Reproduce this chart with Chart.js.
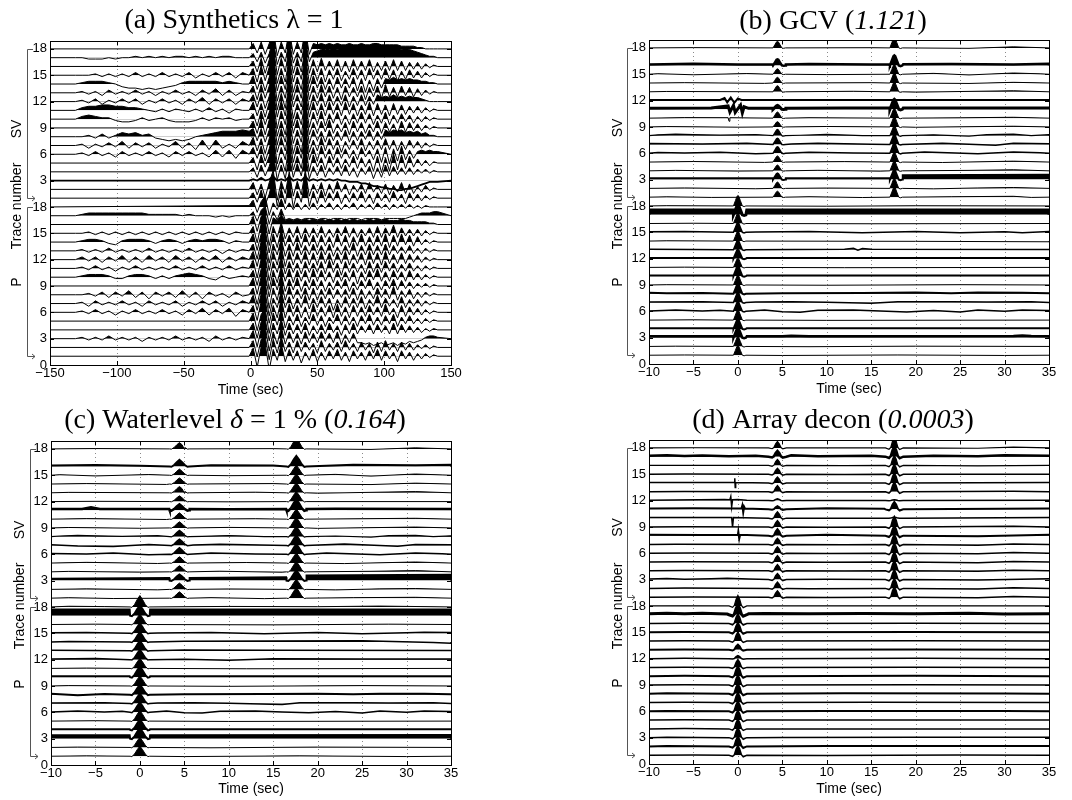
<!DOCTYPE html>
<html><head><meta charset="utf-8">
<script src="https://cdn.jsdelivr.net/npm/chart.js@4.4.1/dist/chart.umd.min.js"></script>
<style>
html,body{margin:0;padding:0;background:#fff;}
#wrap{position:relative;width:1072px;height:800px;overflow:hidden;background:#fff;}
canvas{position:absolute;}
</style></head><body>
<div id="wrap">
<canvas id="ca" width="536" height="400" style="left:0;top:0;width:536px;height:400px"></canvas>
<canvas id="cb" width="536" height="400" style="left:536px;top:0;width:536px;height:400px"></canvas>
<canvas id="cc" width="536" height="400" style="left:0;top:400px;width:536px;height:400px"></canvas>
<canvas id="cd" width="536" height="400" style="left:536px;top:400px;width:536px;height:400px"></canvas>
</div>
<script>
// ---------------- DATA ----------------
// panel (a): sample times (s) and amplitudes in tenths of trace spacing
const aTimesPre = [-131,-126,-121,-116,-111,-106,-101,-96,-91,-86,-81,-76,-71,-66,-61,-56,-51,-46,-41,-36,-31,-26,-21,-16,-11,-6];
const aTimesMain = [-1,2,5,8,11,14,17,20,23,26,29,32,35,38,41,44,47,50,53,56,59,62,65,68,71,74,77,80,83,86,89,92,95,98,101,104,107,110,113,116,119,122,125,128,131,134,137,140];
const aSVpre = [
 [],[],[],[],[],
 [0,1,-1,2,-1,1,-2,2,-1,1,-1,2,-1, 1,-2,2,-1,2,-1,1,-2,3,-2,3,-3,3],
 [0,1,-2,1,-1,2,-1,3,-2,2,-1,2,-2, 1,-1,3,-2,2,-3,4,-3,4,-2,1,-2,3],
 [0,0,1,-1,2,-1,1,3,2,3,1,2,-1, -2,-3,-2,-3,-2,0,1,2,3,4,4,4,5],
 [],
 [0,2,3,2,1,1,-1,-2,-2,-1,1,-1,0, 1,-1,-2,-2,-2,-1,1,-1,1,0,1,-1,0],
 [0,2,3,3,4,4,3,3,2,2,1,0,-1, 1,-1,1,0,-1,1,-1,2,-1,1,-2,1,0],
 [0,1,-1,2,-2,1,-1,2,-1,2,-2,1,-1, 2,-1,1,-2,2,-1,3,-2,2,-1,2,-2,2],
 [0,1,-1,1,-2,2,-1,1,-1,2,-1,1,-2, 1,-1,2,-1,1,-2,2,-1,3,-2,2,-2,1],
 [0,1,2,2,2,1,0,-2,-3,-3,-4,-3,-4, -3,-2,-1,1,2,2,2,2,2,1,2,1,0],
 [0,0,0,1,-1,1,-1,1,-1,2,-1,1,-1, 2,-1,1,-1,2,-2,1,-1,2,-1,2,-2,2],
 [],
 [0,0,-1,-1,-1,0,-1,0,0,1,0,1,0, 1,0,1,1,0,1,0,1,0,1,1,0,0],
 []
];
const aSVmain = [
 [0,4,-3,6,-5,3,15,-6, 7,-4,14,-7,5,-3,15,-6, 5,-4,6,-3,4,-2,5,-4, 3,-3,4,-2,5,-3,3,-4, 4,-2,3,-3,5,-2,3,-4, 4,-2,3,-2,2,-1,1,0],
 [0,5,-4,4,-6,5,14,-8, 6,-3,13,-5,6,-4,14,-5, 4,-3,5,-5,4,-3,6,-2, 4,-4,3,-2,4,-3,5,-2, 3,-3,4,-4,3,-2,5,-3, 4,-3,2,-2,3,-1,1,0],
 [0,1,0,2,0,1,3,0, 1,0,3,0,1,0,3,0, 1,0,1,0,1,0,1,0, 0,-1,-1,-1,-2,-2,-3,-4, -4,-5,-5,-6,-6,-7,-7,-6, -6,-5,-4,-3,-2,-1,-1,-1],
 [0,3,-4,5,-3,4,14,-6, 5,-5,12,-4,6,-3,13,-5, 4,-3,5,-4,3,-2,4,-3, 5,-3,3,-4,3,-2,4,-5, 3,-4,5,-3,4,-2,3,-2, 3,-2,2,-1,2,-1,1,0],
 [0,4,-5,6,-3,5,15,-5, 4,-6,14,-5,5,-4,14,-6, 6,-3,4,-5,5,-3,4,-4, 3,-3,5,-4,4,-3,3,-6, 5,-7,4,-6,7,-5,6,-4, 5,-3,3,-2,2,-2,1,0],
 [0,5,-3,6,-5,4,15,-7, 5,-4,14,-6,6,-3,15,-4, 5,-5,6,-3,4,-4,5,-3, 4,-3,3,-4,5,-2,3,-4, 4,-6,5,-7,4,-5,6,-4, 3,-3,2,3,2,3,2,2],
 [0,6,-4,5,-6,5,14,-5, 6,-4,13,-6,5,-5,14,-5, 4,-4,6,-4,5,-3,4,-5, 3,-3,4,-3,5,-4,3,-3, 4,-3,5,-3,4,-4,3,-3, 4,-2,3,-2,2,-1,1,0],
 [4,6,-3,6,-4,5,15,-6, 6,-4,14,-5,5,-4,14,-5, 5,-3,4,-4,5,-3,4,-3, 5,-4,4,-3,4,-2,5,-3, 4,-2,5,3,5,4,5,3, 4,3,4,2,3,1,1,0],
 [0,5,-4,7,-5,6,15,-6, 5,-5,14,-4,6,-5,15,-5, 4,-4,5,-3,6,-4,3,-3, 4,-5,5,-3,4,-4,3,-3, 5,-4,4,-3,3,-4,5,-3, 4,-2,3,-2,2,-1,1,0],
 [0,4,-5,6,-4,5,14,-7, 6,-4,13,-5,5,-4,14,-6, 5,-4,6,-5,4,-3,5,-4, 3,-4,4,-3,5,-3,4,-4, 3,-3,5,-4,3,-3,4,-2, 3,-3,2,-2,2,-1,1,0],
 [0,6,-4,5,-5,6,15,-5, 7,-4,14,-6,5,-3,14,-5, 6,-4,5,-4,6,-3,5,-4, 6,-3,5,-4,4,-3,6,-4, 5,-3,4,-4,5,-3,4,-3, 3,-2,3,-2,2,-1,1,0],
 [0,5,-4,6,-5,4,15,-6, 6,-5,13,-4,5,-4,14,-6, 5,-3,6,-4,5,-3,4,-3, 5,-4,4,-3,5,-3,4,-2, 5,3,4,3,5,3,4,3, 4,3,3,2,1,0,0,0],
 [0,5,-5,6,-4,5,14,-6, 5,-4,14,-5,6,-4,15,-5, 5,-4,6,-3,5,-4,4,-5, 5,-3,4,-3,5,-5,4,-3, 5,-4,6,-3,4,-3,5,-2, 4,-3,3,-2,2,-1,1,0],
 [0,6,-4,5,-5,5,15,-5, 6,-4,14,-6,5,-4,14,-5, 6,-3,5,-4,4,-4,5,-3, 4,-3,5,-5,4,-6,3,-5, 4,-3,4,3,5,3,4,3, 4,3,3,2,2,1,1,0],
 [0,5,-5,7,-4,6,15,-6, 5,-5,13,-5,6,-3,15,-6, 5,-4,5,-5,4,-3,5,-4, 3,-3,5,-3,4,-4,5,-3, 4,-3,5,-3,4,-4,3,-3, 4,-2,3,-2,2,-1,1,0],
 [0,4,-4,6,-5,5,15,-6, 6,-4,14,-5,6,-4,14,-5, 5,-4,6,-3,4,-3,5,-4, 4,-4,5,-3,4,-3,5,-4, 3,-3,4,-3,5,-3,4,-3, 3,-2,3,-2,2,-1,1,0],
 [0,3,-3,4,-4,3,14,-5, 4,-3,13,-4,4,-3,14,-3, 4,5,6,6,6,7,6,7, 7,8,7,7,8,7,7,8, 7,7,8,7,7,7,6,7, 6,5,4,3,2,1,1,0],
 [0,4,-3,5,-4,4,15,-5, 5,-3,14,-4,5,-3,15,-4, 4,3,4,3,4,3,4,3, 3,4,3,3,4,3,3,4, 4,3,3,3,3,3,2,2, 2,2,1,1,0,0,0,0]
];
const aPpre = [
 [],[],
 [0,1,-1,1,-1,2,-1,1,-1,1,-2,1,-1, 1,-1,2,-1,1,-1,1,-2,2,-1,1,-1,1],
 [],[],
 [0,1,-1,2,-1,1,-2,1,-1,2,-1,1,-1, 2,-1,1,-2,2,-1,3,-2,2,-1,3,-3,2],
 [0,1,-2,2,-1,1,-1,2,-1,1,-2,2,-1, 1,-1,2,-2,1,-1,2,-1,2,-2,1,-1,2],
 [0,0,1,-1,2,-2,2,-1,3,-2,2,-3,2, -1,2,-2,3,-2,2,-3,2,-1,1,-2,2,-1],
 [],
 [0,1,2,2,2,1,-1,-1,1,2,2,1,-1, 1,-1,1,2,3,2,1,-1,-2,1,-1,0,1],
 [0,1,-1,2,-1,1,-2,1,-1,2,-1,1,-1, 1,-1,2,-1,1,-1,2,-1,1,-1,2,-1,1],
 [0,2,-1,2,-2,2,-1,3,-2,2,-2,3,-1, 2,-2,3,-1,2,-2,2,-1,3,-2,2,-1,2],
 [0,1,-1,1,-1,2,-1,1,-1,1,-1,2,-1, 1,-1,1,-1,2,-1,1,-1,1,-2,1,-1,1],
 [0,1,2,2,1,-1,-2,1,2,2,2,1,-1, 1,2,1,-1,1,2,1,2,2,1,-1,1,0],
 [0,0,1,-1,1,-1,1,-1,1,-1,1,-1,1, -1,1,-1,1,-1,1,-1,1,-1,1,-1,1,0],
 [],
 [0,1,2,2,2,2,2,2,2,2,2,1,1, 1,1,1,0,1,0,0,0,-1,0,-1,0,0],
 []
];
const aPmain = [
 [0,6,-8,7,9,-10,5,-3, 9,-4,5,-3,4,-5,3,-3, 5,-4,3,-3,4,-2,5,-3, 3,-4,4,-2,3,-3,4,-2, 5,-3,4,-2,3,-4,4,-2, 3,-3,2,-2,2,-1,1,0],
 [0,5,-7,6,8,-9,6,-4, 8,-3,4,-4,5,-3,4,-2, 3,-4,5,-3,3,-2,4,-3, 5,-2,3,-3,4,-2,3,-4, 4,-3,5,-2,3,-3,4,-2, 3,-2,2,-1,2,-1,1,0],
 [0,6,-6,7,9,-9,5,-4, 9,-4,5,-3,4,-4,5,-3, 4,-3,5,-2,4,-3,5,-4, 3,-3,4,-3,-3,-4,-3,-5, -4,-3,-5,-4,-3,-5,-3,-4, -2,-3,-2,-1,1,2,2,1],
 [0,5,-6,6,8,-8,5,-3, 8,-4,5,-3,4,-3,5,-4, 3,-3,4,-3,5,-2,3,-4, 4,-3,5,-3,3,-2,4,-3, 4,-2,3,-3,5,-3,4,-2, 3,-2,2,-2,1,-1,1,0],
 [0,6,-7,5,9,-9,6,-3, 9,-5,4,-3,5,-4,3,-3, 5,-3,4,-4,3,-2,5,-3, 4,-3,3,-4,4,-2,5,-3, 3,-3,4,-2,5,-4,3,-2, 4,-2,2,-2,2,-1,1,0],
 [0,5,-6,8,9,-8,5,-4, 10,-4,6,-3,5,-4,4,-5, 6,-3,4,-3,5,-4,6,-3, 4,-4,5,-3,4,-3,5,-2, 4,-3,6,-2,3,-4,5,-3, 4,-2,3,-2,2,-1,1,0],
 [0,6,-5,7,8,-9,4,-3, 9,-3,5,-4,4,-3,6,-4, 4,-3,5,-3,4,-5,3,-3, 5,-3,4,-3,5,-4,3,-2, 6,-3,4,-2,3,-3,5,-3, 3,-2,3,-2,2,-1,1,0],
 [0,5,-7,6,9,-10,5,-4, 10,-4,6,-3,4,-3,5,-4, 5,-4,4,-3,5,-3,4,-2, 4,-3,5,-4,4,-3,3,-3, 5,-2,4,-3,6,-4,3,-2, 4,-3,2,-2,2,-1,1,0],
 [0,6,-6,7,8,-8,6,-3, 9,-4,5,-3,6,-4,4,-3, 5,-3,4,-4,3,-3,4,-2, 5,-4,3,-3,4,-2,5,-3, 3,-3,4,-2,5,-3,4,-2, 3,-2,2,-1,2,-1,1,0],
 [0,5,-6,6,9,-9,5,-4, 8,-3,6,-4,5,-3,5,-4, 6,-3,5,-3,4,-4,5,-3, 4,-3,5,-5,4,-3,5,-2, 6,-3,4,-3,5,-2,4,-3, 5,-2,3,-2,2,-1,1,0],
 [0,6,-7,7,9,-9,5,-3, 9,-4,5,-3,4,-4,5,-3, 4,-3,5,-4,6,-3,4,-5, 5,-3,4,-3,3,-4,5,-3, 4,-3,5,-2,4,-3,3,-2, 4,-2,2,-2,2,-1,1,0],
 [0,6,-5,8,9,-8,6,-4, 10,-5,6,-4,5,-3,6,-4, 5,-4,6,-3,5,-4,5,-3, 6,-4,4,-3,5,-4,6,-3, 5,-4,6,-3,4,-3,5,-3, 4,-2,3,-2,2,-1,1,0],
 [0,5,-6,7,8,-9,5,-3, 9,-4,5,-4,6,-3,4,-3, 5,-3,4,-3,5,-4,3,-3, 4,-3,6,-4,4,-3,5,-3, 4,-3,5,-3,4,-2,3,-2, 4,-2,2,-2,2,-1,1,0],
 [0,6,-6,6,9,-8,6,-4, 9,-3,5,-3,5,-4,6,-3, 5,-4,5,-3,4,-4,6,-3, 5,-4,4,-3,6,-3,4,-3, 5,-3,6,-4,5,-3,6,-2, 5,-3,4,-2,2,-1,1,0],
 [0,5,-7,7,9,-9,5,-3, 8,-4,4,-3,5,-4,4,-3, 4,-3,5,-3,3,-3,4,-2, 5,-3,4,-3,3,-2,4,-3, 5,-3,4,-2,6,-3,4,-2, 3,-2,3,-2,2,-1,1,0],
 [0,6,-5,6,8,-7,5,3, 7,3,4,3,4,3,4,3, 4,3,4,3,4,3,4,3, 4,3,4,3,3,3,4,3, 4,3,4,3,3,3,4,3, 3,2,2,2,2,1,1,0],
 [0,3,-4,4,7,-6,3,-3, 5,-3,-2,-3,-2,-3,-2,-2, -2,-3,-2,-2,-3,-2,-2,-2, -3,-2,-2,-2,-3,-2,-2,-2, -2,-3,-2,-2,-2,-2,-2,-2, -1,0,1,2,2,2,3,3],
 [1,5,-4,4,8,-6,3,-2, 6,-2,3,-2,3,-2,2,-2, 3,-2,2,-1,3,-2,2,-2, 2,-1,3,-2,2,-1,2,-2, 3,-1,2,-2,2,-1,2,-1, 2,-1,1,-1,1,0,0,0]
];

// panels (b)-(d): pulse arrival times (s), pulse shapes [dt, relative amp], pulse heights and sparse background points [t, amp]
const svTimes = [4.45, 17.6];
const pTime = 0;
const kernB = [[-0.5,0],[-0.28,0.5],[-0.1,0.92],[0,1],[0.1,0.92],[0.28,0.5],[0.5,0],[0.7,-0.06],[0.9,0]];
const kernC = [[-1.1,0],[-0.9,-0.04],[-0.6,0.22],[-0.3,0.65],[0,1],[0.3,0.65],[0.6,0.22],[0.9,-0.04],[1.1,0]];
const kernD = [[-1.0,0],[-0.6,-0.13],[-0.4,0.05],[-0.2,0.65],[0,1],[0.2,0.65],[0.4,0.05],[0.6,-0.16],[1.0,0]];

const bSVp1 = [0.68,0.72,0.7,0.66,0.7,0.74,0.7,0.72,0.6,0.7,0.45,0,0.7,0.65,0.62,0.7,null,0.75];
const bSVp2 = [1.15,1.12,1.1,1.12,1.1,1.15,1.12,1.1,1.15,1.1,1.15,0,1.1,1.12,1.1,1.15,null,1.2];
const bPp   = [1.1,1.1,1.12,1.1,1.15,1.1,1.12,1.1,1.1,1.15,1.05,1.0,1.1,1.12,1.1,1.15,1.1,1.2];
const bSVbg = [
 [[-8,0.04],[-3,-0.03],[8,0.05],[14,-0.04],[24,0.05],[31,0.1],[33,-0.03]],
 [[-6,0.05],[2,-0.04],[10,0.04],[22,-0.05],[27,0.05],[31,0.1]],
 [[-10,0.15],[3.95,0.15],[5.4,0.15],[17.1,0.15],[18.55,0.5],[35,0.55]],
 [[-7,0.05],[0,-0.03],[9,0.06],[16,-0.04],[26,0.05],[31,0.12]],
 [[-5,0.06],[3,-0.04],[12,0.05],[23,-0.05],[31,0.1]],
 [[-9,0.1],[-6,0.02],[-2,0.12],[2,-0.05],[8,0.12],[13,0.03],[21,0.14],[27,-0.06],[31,0.15],[34,0.05]],
 [[-10,0.12],[-4,0.05],[1,0.14],[6,0.06],[9,0.15],[15,0.04],[23,0.15],[29,-0.1],[31,0.14],[35,0.08]],
 [[-9,0.1],[-7,0.18],[-5,0.12],[-2,0.06],[2,0.14],[7,0.05],[10,0.15],[14,0.02],[22,0.1],[26,-0.05],[28,0.12],[31,0.18],[33,0.0],[35,0.12]],
 [[-8,0.04],[0,-0.03],[10,0.05],[20,-0.04],[31,0.08]],
 [[-6,0.06],[-1.1,0.05],[-1.0,-0.35],[-0.9,0.05],[8,0.05],[25,0.04],[31,0.1]],
 [[-10,0.12],[-3,0.15],[-1.1,0.4],[-0.9,-0.3],[-0.5,0.45],[-0.3,-0.35],[0.3,0.5],[0.5,-0.4],[0.7,0.3],[1.2,0.12],[3.95,0.12],[5.4,0.12],[12,0.15],[17.1,0.15],[18.6,0.15],[35,0.15]],
 [[-10,0.08],[-2,0.08],[-1.5,0.3],[-1.2,-0.2],[-0.8,0.35],[-0.4,-0.25],[0,0.25],[0.4,0.08],[35,0.08]],
 [[-8,0.04],[5,-0.03],[13,0.06],[20,-0.04],[31,0.12]],
 [[-6,0.04],[3,-0.04],[15,0.04],[26,-0.05],[31,0.08]],
 [[-9,0.06],[-5,-0.06],[1,0.08],[10,-0.04],[22,0.1],[26,-0.08],[31,0.14],[34,0.05]],
 [[-10,0.12],[-5,0.2],[0,0.1],[3.9,0.1],[5.4,0.12],[8,0.16],[15,0.1],[17,0.1],[18.6,0.15],[24,0.18],[31,0.12],[35,0.2]],
 null,
 [[-5,0.03],[5,-0.03],[15,0.02],[26,-0.05],[31,0.12]]
];
const bPbg = [
 [[-6,0.03],[5,-0.03],[18,0.03],[30,-0.03]],
 [[-7,0.03],[8,-0.03],[20,0.03]],
 [[-10,0.15],[-0.5,0.15],[1,0.15],[5,0.15],[6,0.22],[8,0.15],[31,0.18],[32,0.25],[33,0.18],[35,0.15]],
 [[-10,0.08],[-0.5,0.08],[1,0.08],[35,0.08]],
 [[-5,0.03],[10,-0.03]],
 [[-10,0.05],[-7,0.15],[-4,0.05],[-2,0.12],[3,0.15],[5,-0.05],[7,-0.1],[9,0.12],[13,0.15],[16,0.05],[19,-0.08],[22,0.1],[25,-0.08],[27,0.14],[30,0.02],[32,0.14],[35,0.08]],
 [[-10,0.05],[-4,0.1],[2,0.05],[6,0.1],[10,0.04],[15,-0.08],[18,0.08],[24,0.1],[28,0.05],[33,0.08]],
 [[-10,0.12],[-8,0.06],[-4,0.1],[5,0.06],[14,0.1],[20,0.15],[24,0.05],[27,0.14],[32,0.12],[35,0.05]],
 [[-8,0.03],[10,-0.03],[25,0.03]],
 [[-10,0.08],[-0.5,0.08],[1,0.08],[35,0.08]],
 [[-6,0.03],[12,-0.03]],
 [[-10,0.08],[-0.5,0.08],[1,0.08],[35,0.08]],
 [[-10,0.06],[12,0.06],[13,0.18],[13.5,-0.05],[14,0.15],[15,0.06],[35,0.05]],
 [[-8,0.03],[20,-0.03],[35,-0.08]],
 [[-10,0.06],[-6,0.1],[2,0.04],[8,0.08],[14,-0.05],[20,0.08],[25,-0.06],[30,0.06],[32,-0.06],[35,0.1]],
 [[-5,0.03],[15,-0.03]],
 [[-10,0.55],[-0.55,0.55],[1,0.55],[35,0.55]],
 [[-8,0.03],[10,-0.03],[20,0.02]]
];

const cSVp1 = [0.72,0.72,0.7,0.7,0.72,0.75,0.72,0.74,0.7,0.72,0.68,0.66,0.72,0.7,0.7,0.75,null,0.72];
const cSVp2 = [1.2,1.15,1.15,1.18,1.15,1.2,1.18,1.15,1.2,1.15,1.2,1.15,1.15,1.18,1.15,1.2,null,1.25];
const cPp   = [1.15,1.15,1.18,1.15,1.2,1.15,1.18,1.15,1.15,1.2,1.15,1.15,1.18,1.15,1.15,1.2,1.15,1.3];
const cSVbg = [
 [[-8,0.05],[-3,-0.04],[8,0.06],[14,-0.05],[24,0.06],[31,0.1]],
 [[-6,0.06],[2,-0.05],[10,0.05],[22,-0.06],[27,0.06],[31,0.1]],
 [[-10,0.22],[3.3,0.3],[5.6,0.3],[16.45,0.38],[18.75,0.58],[35,0.68]],
 [[-8,0.05],[0,-0.04],[9,0.07],[16,-0.05],[26,0.06],[31,0.14]],
 [[-6,0.08],[2,-0.05],[12,0.06],[23,-0.06],[31,0.12]],
 [[-10,0.1],[-6,0.02],[-3,0.14],[1,-0.06],[8,0.14],[13,0.03],[21,0.14],[27,-0.06],[31,0.15],[34,0.05]],
 [[-10,0.08],[-7,-0.06],[-3,-0.12],[1,0.12],[6,0.06],[9,0.14],[15,0.04],[23,0.16],[29,-0.1],[31,0.12],[35,0.08]],
 [[-9,0.08],[-7,0.16],[-5,0.1],[-2,0.04],[2,0.12],[7,0.04],[10,0.14],[14,0.02],[22,0.08],[26,-0.05],[28,0.12],[31,0.16],[33,0.0],[35,0.1]],
 [[-8,0.05],[0,-0.04],[10,0.06],[20,-0.05],[31,0.1]],
 [[-6,0.06],[3,-0.04],[13,0.05],[25,0.05],[31,0.1]],
 [[-10,0.15],[-6.5,0.15],[-5.5,0.35],[-4.5,0.15],[3.3,0.15],[5.6,0.15],[10,0.12],[16.45,0.15],[18.75,0.15],[22,0.18],[35,0.15]],
 [[-5,0.03],[10,-0.03]],
 [[-8,0.05],[5,-0.04],[13,0.07],[20,-0.05],[31,0.14]],
 [[-6,0.05],[3,-0.05],[15,0.05],[26,-0.06],[31,0.1]],
 [[-9,0.06],[-5,-0.08],[1,0.08],[10,-0.05],[22,0.1],[26,-0.1],[31,0.14],[34,0.04]],
 [[-10,0.1],[-5,0.18],[0,0.08],[8,0.14],[15,0.1],[24,0.2],[31,0.14],[35,0.2]],
 null,
 [[-5,0.04],[5,-0.04],[15,0.03],[26,-0.06],[31,0.12]]
];
const cPbg = [
 [[-6,0.04],[5,-0.04],[18,0.04],[30,-0.04]],
 [[-7,0.04],[8,-0.04],[20,0.04]],
 [[-10,0.38],[-1.15,0.38],[1.15,0.4],[35,0.42]],
 [[-10,0.08],[-1.15,0.08],[1.15,0.08],[35,0.08]],
 [[-5,0.04],[10,-0.04]],
 [[-10,0.05],[-7,0.15],[-4,0.05],[-2,0.12],[3,0.15],[5,-0.05],[7,-0.08],[9,0.12],[13,0.15],[16,0.05],[19,-0.06],[22,0.1],[25,-0.08],[27,0.14],[30,0.02],[32,0.14],[35,0.08]],
 [[-10,0.05],[-4,0.1],[2,0.05],[6,0.1],[10,0.04],[16,-0.12],[18,0.08],[24,0.1],[28,0.05],[33,0.08]],
 [[-10,0.12],[-7,-0.06],[-4,0.1],[5,0.06],[14,0.1],[20,0.12],[24,0.05],[27,0.12],[32,0.12],[35,0.05]],
 [[-8,0.04],[10,-0.04],[25,0.04]],
 [[-10,0.1],[-1.15,0.1],[1.15,0.1],[35,0.1]],
 [[-6,0.04],[12,-0.04]],
 [[-10,0.06],[-5,0.12],[5,0.05],[10,-0.06],[15,0.1],[25,0.06],[35,0.08]],
 [[-10,0.06],[5,0.1],[15,0.06],[35,0.05]],
 [[-8,0.06],[5,0.1],[15,0.12],[25,0.14],[33,-0.04],[35,-0.12]],
 [[-10,0.06],[-6,0.1],[2,0.04],[8,0.08],[14,-0.05],[20,0.08],[25,-0.06],[30,0.06],[32,0.12],[35,0.1]],
 [[-5,0.04],[15,-0.04],[28,0.04]],
 [[-10,0.7],[-1.15,0.7],[1.15,0.7],[35,0.7]],
 [[-8,0.08],[-4,0.04],[10,0.06],[20,0.03],[27,0.1]]
];

const dSVp1 = [0.72,0.7,0.68,0.7,0.72,0.72,0.7,0.74,0.7,0.72,0.35,0.2,0.7,0.68,0.66,0.7,0.65,0.72];
const dSVp2 = [1.15,1.12,1.12,1.15,1.12,1.15,1.12,1.12,1.2,0.1,0.85,0.1,1.12,1.15,1.12,1.15,1.15,1.2];
const dPp   = [1.1,1.1,1.12,1.1,1.12,1.1,1.12,1.1,1.15,1.1,0.9,0.35,0.6,1.0,1.05,1.1,1.1,1.2];
const dSVbg = [
 [[-5,0.03],[10,-0.03],[27,-0.06],[31,0.08]],
 [[-6,0.04],[8,-0.04],[27,-0.06],[31,0.06]],
 [[-10,0.06],[-8,0.12],[-6,0.05],[-3,0.1],[-1.2,0.15],[1.2,0.08],[10,0.05],[27,-0.05],[35,0.1]],
 [[-6,0.03],[12,-0.03],[27,-0.06],[31,0.06]],
 [[-6,0.03],[10,-0.03],[27,-0.08],[31,0.06]],
 [[-5,0.04],[10,-0.04],[27,-0.06],[31,0.08]],
 [[-7,0.03],[12,-0.04],[27,-0.1],[31,0.05]],
 [[-10,0.1],[-4,0.08],[0,0.08],[0.05,0.45],[0.15,-0.35],[0.25,0.1],[10,0.1],[27,-0.05],[35,0.1]],
 [[-6,0.03],[10,-0.03],[31,0.08]],
 [[-10,0.06],[-0.7,0.06],[-0.6,-1.0],[-0.5,0.06],[35,0.06]],
 [[-10,0.1],[-5,0.12],[0.4,0.1],[0.5,0.45],[0.6,-0.35],[0.7,0.3],[0.8,0.1],[10,0.12],[16.5,0.06],[35,0.1]],
 [[-10,0.05],[-1.5,0.12],[-0.9,0.1],[-0.8,0.45],[-0.7,-0.7],[-0.6,0.1],[0,0.12],[1,0.05],[35,0.05]],
 [[-6,0.03],[10,-0.03],[31,0.06]],
 [[-10,0.05],[-0.4,0.05],[-0.35,0.55],[-0.3,-0.5],[-0.25,0.05],[35,0.05]],
 [[-6,0.03],[12,-0.03]],
 [[-6,0.02],[12,-0.02],[27,-0.05]],
 [[-10,0.1],[-8,0.16],[-6,0.08],[-4,0.14],[-1,0.06],[2,0.1],[6,0.16],[9,0.06],[15,0.1],[22,0.12],[27,0.04],[30,0.16],[35,0.1]],
 [[-5,0.02],[27,-0.04],[31,0.08]]
];
const dPbg = [
 [[-5,0.02],[10,-0.02],[25,0.02]],
 [[-8,0.06],[10,0.04],[35,0.04]],
 [[-8,0.04],[5,0.03],[20,0.05],[35,0.04]],
 [[-6,0.03],[15,-0.02]],
 [[-6,0.03],[15,0.02]],
 [[-8,0.05],[10,0.04],[30,0.05]],
 [[-6,0.03],[15,0.03]],
 [[-8,0.05],[12,0.05],[30,0.04]],
 [[-6,0.03],[20,0.03]],
 [[-6,0.04],[20,0.04]],
 [[-6,0.03],[20,0.03]],
 [[-6,0.03],[20,0.03]],
 [[-6,0.03],[20,0.03]],
 [[-6,0.03],[20,0.03]],
 [[-6,0.03],[20,0.03]],
 [[-6,0.03],[20,0.03]],
 [[-10,0.12],[-8,0.18],[-6,0.1],[-4,0.16],[-1.2,0.08],[1.2,0.1],[3,0.14],[8,0.1],[14,0.15],[20,0.1],[26,0.16],[30,0.08],[35,0.12]],
 [[-6,0.02],[20,0.02]]
];

// tick labels
const yTickValues = [0,3,6,9,12,15,18,21,24,27,30,33,36];
const yTickLabels = ['0','3','6','9','12','15','18','3','6','9','12','15','18'];

// ---------------- STYLES ----------------
const gainA = 1.55; // display gain of panel (a) wiggles
const aSVlw = [1,1,1.8,1,1,1,1,1,1,1,1,1,1,1,1,1,1,1];
const aPlw  = [1,1,1,1,1,1,1,1,1,1,1,1,1,1,1,1,1,1];
const bSVlw = [1,1,2,1,1,1.5,1.5,1.2,1,1,3,2,1,1,1,2.5,1,1];
const bPlw  = [1,1,2.5,2,1,1.5,1.5,2,1,2,1,2,1.5,1,1.5,1,3,1];
const cSVlw = [1,1,2,1,1,1.5,1.5,1.2,1,1,2.5,1,1,1,1,2,1,1];
const cPlw  = [1,1,2,2,1,1.5,1.5,2,1,2,1,1.5,1.5,1.5,1.5,1,2,1];
const dSVlw = [1.5,1.5,1.5,1.5,1.5,1.5,1.5,2,1.5,1.5,2,1.5,1.5,1.5,1.5,1.2,2.5,1.2];
const dPlw  = [1.5,2,1.5,1.5,1.5,2,1.5,2,1.5,2,1.5,1.5,2,1.5,2,1.5,3,1.2];

// ---------------- BUILD ----------------
function ds(points, base, lw){
  return {data: points, borderColor:'#000', borderWidth: lw, pointRadius:0, tension:0,
    fill:{target:{value:base}, above:'#000', below:'rgba(0,0,0,0)'}};
}
function traceA(base, pre, main, lw){
  const pts=[{x:-150,y:base}];
  pre.forEach((v,i)=>pts.push({x:aTimesPre[i], y:base+gainA*v/10}));
  main.forEach((v,i)=>pts.push({x:aTimesMain[i], y:base+gainA*v/10}));
  pts.push({x:150,y:base});
  return ds(pts, base, lw);
}
function traceS(base, bg, pulses, kern, lw){
  const raw = bg.map(p=>[p[0],p[1]]);
  pulses.forEach(([t0,h])=>{ if(h) kern.forEach(([dt,k])=>raw.push([t0+dt,h*k])); });
  raw.sort((a,b)=>a[0]-b[0]);
  const pts=[{x:-10,y:base}];
  raw.forEach(p=>pts.push({x:p[0],y:base+p[1]}));
  pts.push({x:35,y:base});
  return ds(pts, base, lw);
}
const dsA=[];
for(let i=0;i<18;i++){ dsA.push(traceA(i+1, aPpre[i], aPmain[i], aPlw[i])); }
for(let i=0;i<18;i++){ dsA.push(traceA(i+19, aSVpre[i], aSVmain[i], aSVlw[i])); }
function panelSets(svBg,svP1,svP2,pBg,pP,kern,svLw,pLw){
  const out=[];
  for(let i=0;i<18;i++){ out.push(traceS(i+1, pBg[i], [[pTime,pP[i]]], kern, pLw[i])); }
  for(let i=0;i<18;i++){ if(svBg[i]) out.push(traceS(i+19, svBg[i], [[svTimes[0],svP1[i]],[svTimes[1],svP2[i]]], kern, svLw[i])); }
  return out;
}
const dsB = panelSets(bSVbg,bSVp1,bSVp2,bPbg,bPp,kernB,bSVlw,bPlw);
const dsC = panelSets(cSVbg,cSVp1,cSVp2,cPbg,cPp,kernC,cSVlw,cPlw);
const dsD = panelSets(dSVbg,dSVp1,dSVp2,dPbg,dPp,kernD,dSVlw,dPlw);

// ---------------- DECORATION PLUGIN ----------------
const deco = {
  id:'deco',
  beforeDatasetsDraw(chart, args, o){
    const ctx=chart.ctx, a=chart.chartArea, xs=chart.scales.x;
    ctx.save(); ctx.strokeStyle='#8a8a8a'; ctx.lineWidth=1; ctx.setLineDash([1,3]);
    o.grid.forEach(v=>{ const x=Math.round(xs.getPixelForValue(v))+0.5; ctx.beginPath(); ctx.moveTo(x,a.top); ctx.lineTo(x,a.bottom); ctx.stroke(); });
    ctx.restore();
  },
  afterDraw(chart, args, o){
    const ctx=chart.ctx, a=chart.chartArea, xs=chart.scales.x, ys=chart.scales.y;
    ctx.save();
    ctx.strokeStyle='#000'; ctx.lineWidth=1; ctx.setLineDash([]);
    ctx.strokeRect(Math.round(a.left)+0.5, Math.round(a.top)+0.5, Math.round(a.right-a.left), Math.round(a.bottom-a.top));
    ctx.beginPath();
    xs.ticks.forEach(t=>{ const x=Math.round(xs.getPixelForValue(t.value))+0.5; ctx.moveTo(x,a.bottom); ctx.lineTo(x,a.bottom-4); ctx.moveTo(x,a.top); ctx.lineTo(x,a.top+4); });
    ys.ticks.forEach(t=>{ const y=Math.round(ys.getPixelForValue(t.value))+0.5; ctx.moveTo(a.left,y); ctx.lineTo(a.left+4,y); ctx.moveTo(a.right,y); ctx.lineTo(a.right-4,y); });
    ctx.stroke();
    ctx.fillStyle='#000'; ctx.textBaseline='middle';
    const fs=o.titleSize;
    const fontOf=s=>(s.it?'italic ':'')+fs+'px "Liberation Serif", "Times New Roman", serif';
    let w=0; o.title.forEach(s=>{ctx.font=fontOf(s); w+=ctx.measureText(s.t).width;});
    let x=o.tx-w/2;
    o.title.forEach(s=>{ctx.font=fontOf(s); ctx.textAlign='left'; ctx.fillText(s.t,x,o.ty); x+=ctx.measureText(s.t).width;});
    ctx.font='14px "Liberation Sans", Arial, sans-serif'; ctx.textAlign='center';
    ctx.fillText('Time (sec)', (a.left+a.right)/2, o.timeY);
    const rot=(txt,x,y)=>{ctx.save(); ctx.translate(x,y); ctx.rotate(-Math.PI/2); ctx.textAlign='center'; ctx.textBaseline='middle'; ctx.fillText(txt,0,0); ctx.restore();};
    rot('Trace number', o.labelX, o.tnY);
    rot('SV', o.labelX, o.svY);
    rot('P', o.labelX, o.pY);
    ctx.strokeStyle='#555'; ctx.lineWidth=1;
    const br=(v1,v2)=>{
      const yT=Math.round(ys.getPixelForValue(v1))+0.5, yB=Math.round(ys.getPixelForValue(v2))+0.5, bx=Math.round(o.bx)+0.5;
      ctx.beginPath(); ctx.moveTo(o.armX-2,yT); ctx.lineTo(bx,yT); ctx.lineTo(bx,yB); ctx.lineTo(o.armX,yB); ctx.stroke();
      ctx.beginPath(); ctx.moveTo(o.armX-3,yB-2.5); ctx.lineTo(o.armX,yB); ctx.lineTo(o.armX-3,yB+2.5); ctx.stroke();
    };
    br(36,19); br(18,1);
    ctx.restore();
  }
};

function makeChart(id, sets, xmin, xmax, step, pad, xh, deco_opts){
  return new Chart(document.getElementById(id), {
    type:'line',
    data:{datasets:sets},
    options:{
      responsive:false, animation:false, events:[],
      layout:{padding:pad},
      plugins:{legend:{display:false}, tooltip:{enabled:false}, title:{display:false}, deco:deco_opts},
      scales:{
        x:{type:'linear', min:xmin, max:xmax,
           ticks:{stepSize:step, autoSkip:false, maxRotation:0, padding:1, color:'#000',
             font:{family:'"Liberation Sans", Arial, sans-serif', size:13},
             callback:v=> v<0 ? '\u2212'+Math.abs(v) : String(v)},
           grid:{display:false, drawTicks:false}, border:{display:false},
           afterFit:s=>{s.height=xh;}},
        y:{type:'linear', min:0, max:36.9,
           afterBuildTicks:s=>{ s.ticks = yTickValues.map(v=>({value:v})); },
           ticks:{autoSkip:false, padding:3, color:'#000',
             font:{family:'"Liberation Sans", Arial, sans-serif', size:13},
             callback:v=> yTickLabels[yTickValues.indexOf(v)]},
           grid:{display:false, drawTicks:false}, border:{display:false},
           afterFit:s=>{s.width=40;}}
      }
    },
    plugins:[deco]
  });
}
const gridAB = [-5,0,5,10,15,20,25,30];
makeChart('ca', dsA, -150, 150, 50, {left:10,right:85,top:41,bottom:0}, 35,
  {grid:[-100,-50,0,50,100], title:[{t:'(a) Synthetics '},{t:'\u03bb'},{t:' = 1'}], titleSize:28, tx:234, ty:21,
   timeY:390, labelX:17.5, tnY:206, svY:129, pY:282, bx:27, armX:35});
makeChart('cb', dsB, -10, 35, 5, {left:73,right:23,top:40,bottom:0}, 36,
  {grid:gridAB, title:[{t:'(b) GCV ('},{t:'1.121',it:true},{t:')'}], titleSize:28, tx:297, ty:22,
   timeY:389.5, labelX:82, tnY:206, svY:128, pY:282, bx:91, armX:99});
makeChart('cc', dsC, -10, 35, 5, {left:11,right:85,top:41,bottom:0}, 35,
  {grid:gridAB, title:[{t:'(c) Waterlevel '},{t:'\u03b4',it:true},{t:' = 1 % ('},{t:'0.164',it:true},{t:')'}], titleSize:28, tx:235, ty:21,
   timeY:389, labelX:20.5, tnY:206, svY:130, pY:284, bx:30, armX:38});
makeChart('cd', dsD, -10, 35, 5, {left:73,right:23,top:40,bottom:0}, 36,
  {grid:gridAB, title:[{t:'(d) Array decon ('},{t:'0.0003',it:true},{t:')'}], titleSize:28, tx:297, ty:21,
   timeY:389, labelX:82, tnY:206, svY:127.5, pY:283, bx:91, armX:99});
</script>
</body></html>
